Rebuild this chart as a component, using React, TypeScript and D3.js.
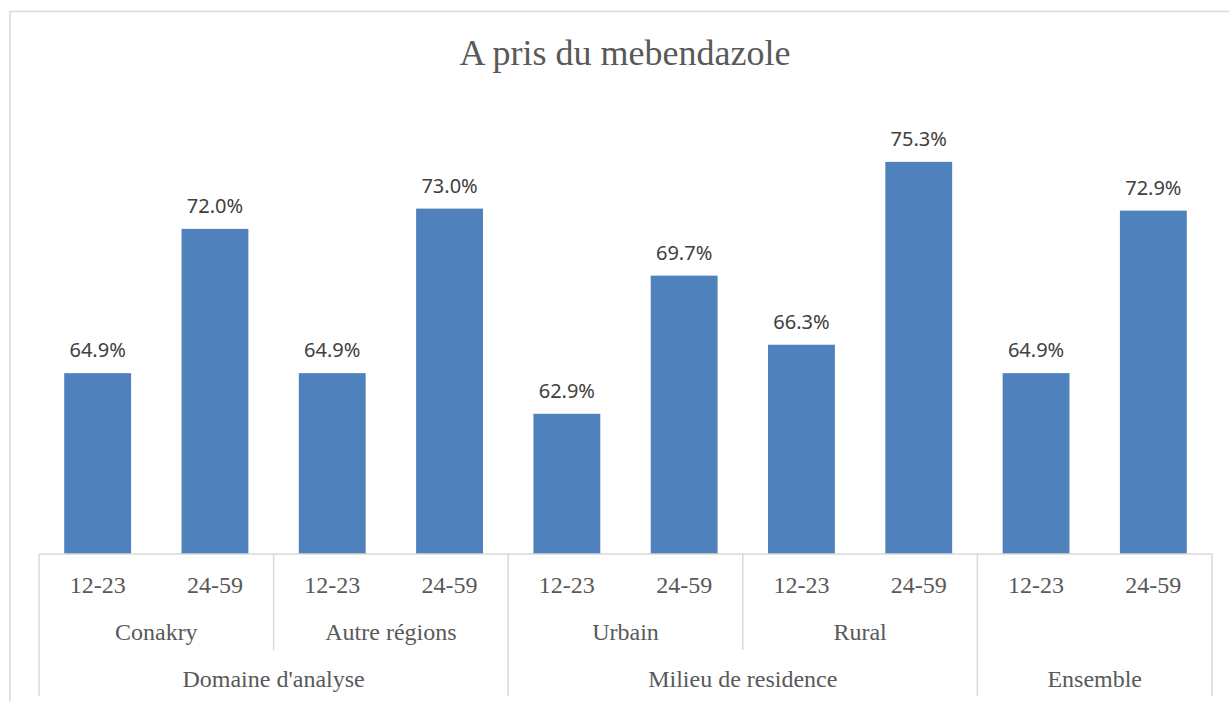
import React, { useEffect, useRef } from "react";
import * as d3 from "d3";

const ages = ["12-23", "24-59"];
const subgroups = ["Conakry", "Autre régions", "Urbain", "Rural", ""];
const groups = ["Domaine d'analyse", "Milieu de residence", "Ensemble"];
// how many subgroups each top group spans
const groupSpan = [2, 2, 1];
const values = [64.9, 72.0, 64.9, 73.0, 62.9, 69.7, 66.3, 75.3, 64.9, 72.9];

export default function App() {
  const ref = useRef<SVGSVGElement>(null);

  useEffect(() => {
    const width = 1229, height = 701;
    const margin = { left: 39, right: 17, top: 107, bottom: 147 };
    const svg = d3.select(ref.current);
    svg.selectAll("*").remove();

    const baseY = height - margin.bottom;
    const cats = values.map((_, i) => i);

    const x = d3.scaleBand<number>()
      .domain(cats)
      .range([margin.left, width - margin.right])
      .paddingInner(0.43)
      .paddingOuter(0.215);
    const step = (width - margin.left - margin.right) / values.length;
    const edge = d3.scaleLinear().domain([0, values.length]).range([margin.left, width - margin.right]);
    const y = d3.scaleLinear().domain([56, 78]).range([baseY, margin.top]);

    // chart border
    svg.append("rect")
      .attr("x", 10).attr("y", 11.5)
      .attr("width", width + 20).attr("height", height + 20)
      .attr("fill", "none").attr("stroke", "#d9d9d9").attr("stroke-width", 1.5);

    svg.append("text")
      .attr("x", 625).attr("y", 65)
      .attr("text-anchor", "middle")
      .style("font-family", "'Liberation Serif', serif")
      .style("font-size", "36px")
      .attr("fill", "#595959")
      .text("A pris du mebendazole");

    svg.append("g").selectAll("rect")
      .data(values)
      .enter().append("rect")
      .attr("x", (d, i) => x(i)!)
      .attr("width", x.bandwidth())
      .attr("y", d => y(d))
      .attr("height", d => baseY - y(d))
      .attr("fill", "#4f81bd");

    svg.append("g").selectAll("text")
      .data(values)
      .enter().append("text")
      .attr("x", (d, i) => x(i)! + x.bandwidth() / 2)
      .attr("y", d => y(d) - 16)
      .attr("text-anchor", "middle")
      .style("font-family", "'Noto Sans', sans-serif")
      .style("font-size", "20px")
      .attr("fill", "#404040")
      .text(d => d.toFixed(1) + "%");

    // multi-level category axis
    const ax = svg.append("g")
      .attr("stroke", "#d9d9d9").attr("stroke-width", 1.5);
    ax.append("line")
      .attr("x1", edge(0)).attr("x2", edge(values.length))
      .attr("y1", baseY).attr("y2", baseY);

    const labelStyle = (s: any) => s
      .attr("text-anchor", "middle")
      .style("font-family", "'Liberation Serif', serif")
      .style("font-size", "24px")
      .attr("fill", "#595959");

    svg.append("g").selectAll("text")
      .data(cats)
      .enter().append("text")
      .attr("x", i => edge(i) + step / 2)
      .attr("y", baseY + 39)
      .call(labelStyle)
      .text(i => ages[i % 2]);

    subgroups.forEach((s, j) => {
      svg.append("text")
        .attr("x", edge(j * 2 + 1))
        .attr("y", baseY + 86)
        .call(labelStyle)
        .text(s);
    });

    let start = 0;
    const groupEdges = [0];
    groups.forEach((g, k) => {
      const end = start + groupSpan[k];
      svg.append("text")
        .attr("x", (edge(start * 2) + edge(end * 2)) / 2)
        .attr("y", baseY + 133)
        .call(labelStyle)
        .text(g);
      // subgroup dividers inside the group
      for (let s = start + 1; s < end; s++) {
        ax.append("line")
          .attr("x1", edge(s * 2)).attr("x2", edge(s * 2))
          .attr("y1", baseY).attr("y2", baseY + 96);
      }
      start = end;
      groupEdges.push(end);
    });
    groupEdges.forEach(e => {
      ax.append("line")
        .attr("x1", edge(e * 2)).attr("x2", edge(e * 2))
        .attr("y1", baseY).attr("y2", baseY + 142);
    });
  }, []);

  return (
    <svg ref={ref} width={1229} height={701}
      style={{ position: "absolute", left: 0, top: 0, background: "#fff" }} />
  );
}
